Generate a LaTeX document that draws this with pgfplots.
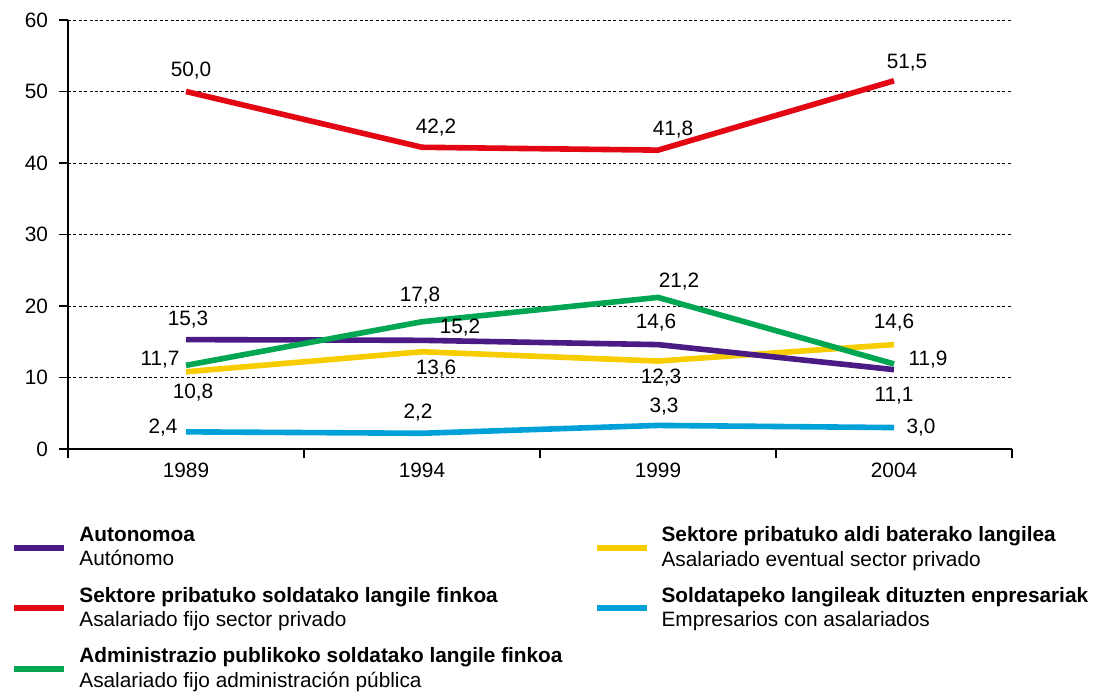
\documentclass[border=0pt]{standalone}
\usepackage{fontspec}
\setmainfont{Liberation Sans}
\usepackage{pgfplots}
\pgfplotsset{compat=1.18}
\definecolor{cpurple}{HTML}{4A1A85}
\definecolor{cred}{HTML}{E30613}
\definecolor{cgreen}{HTML}{00A651}
\definecolor{cyellow}{HTML}{F7CD00}
\definecolor{cblue}{HTML}{00A1D9}
\newcommand{\lab}[4]{\node[xshift=#3pt,yshift=#4pt] at (axis cs:#1) {#2};}
\begin{document}
\begin{tikzpicture}[font=\fontsize{10.4}{12.3}\selectfont]
\begin{axis}[
  scale only axis, width=472pt, height=214.5pt,
  xmin=0, xmax=4, ymin=0, ymax=60,
  axis x line=bottom, axis y line=left,
  axis line style={-, line width=0.8pt},
  xtick={0,1,2,3,4}, xticklabels={,,,,},
  extra x ticks={0.5,1.5,2.5,3.5},
  extra x tick labels={1989,1994,1999,2004},
  extra x tick style={major tick length=0pt, xticklabel style={yshift=-3.5pt}},
  ytick={0,10,...,60},
  tick align=outside, major tick length=4.5pt,
  tick style={black, line width=0.8pt},
  yticklabel style={xshift=-2pt},
  /pgf/number format/assume math mode=true,
  ymajorgrids, grid style={black, line width=0.5pt, dash pattern=on 1.5pt off 1.2pt},
  clip=false,
  legend columns=2, legend cell align=left,
  legend image code/.code={\draw[#1] (0pt,0pt) -- (25pt,0pt);},
  legend style={at={(0,0)}, anchor=north west, xshift=-28.5pt, yshift=-38.5pt,
    draw=none, fill=none, inner sep=0pt, column sep=6pt, row sep=9pt,
    nodes={inner sep=0pt, align=left},
    /tikz/every even column/.append style={column sep=15.5pt}},
]
\addplot[cblue, line width=2.8pt, forget plot] coordinates {(0.5,2.4)(1.5,2.2)(2.5,3.3)(3.5,3.0)};
\addplot[cyellow, line width=2.8pt, forget plot] coordinates {(0.5,10.8)(1.5,13.6)(2.5,12.3)(3.5,14.6)};
\addplot[cpurple, line width=2.8pt, forget plot] coordinates {(0.5,15.3)(1.5,15.2)(2.5,14.6)(3.5,11.1)};
\addplot[cgreen, line width=2.8pt, forget plot] coordinates {(0.5,11.7)(1.5,17.8)(2.5,21.2)(3.5,11.9)};
\addplot[cred, line width=2.8pt, forget plot] coordinates {(0.5,50.0)(1.5,42.2)(2.5,41.8)(3.5,51.5)};

\addlegendimage{cpurple, line width=3pt}
\addlegendentry{\textbf{Autonomoa}\\Autónomo}
\addlegendimage{cyellow, line width=3pt}
\addlegendentry{\textbf{Sektore pribatuko aldi baterako langilea}\\Asalariado eventual sector privado}
\addlegendimage{cred, line width=3pt}
\addlegendentry{\textbf{Sektore pribatuko soldatako langile finkoa}\\Asalariado fijo sector privado}
\addlegendimage{cblue, line width=3pt}
\addlegendentry{\textbf{Soldatapeko langileak dituzten enpresariak}\\Empresarios con asalariados}
\addlegendimage{cgreen, line width=3pt}
\addlegendentry{\textbf{Administrazio publikoko soldatako langile finkoa}\\Asalariado fijo administración pública}

% red
\lab{0.5,50.0}{50,0}{2.5}{10.5}
\lab{1.5,42.2}{42,2}{7}{10}
\lab{2.5,41.8}{41,8}{7.5}{10.5}
\lab{3.5,51.5}{51,5}{6.5}{9}
% purple
\lab{0.5,15.3}{15,3}{1}{10}
\lab{1.5,15.2}{15,2}{19}{6.5}
\lab{2.5,14.6}{14,6}{-1}{11}
\lab{3.5,11.1}{11,1}{0}{-13}
% green
\lab{0.5,11.7}{11,7}{-13}{3}
\lab{1.5,17.8}{17,8}{-1}{13}
\lab{2.5,21.2}{21,2}{10.5}{8}
\lab{3.5,11.9}{11,9}{17}{2}
% yellow
\lab{0.5,10.8}{10,8}{3.5}{-10.5}
\lab{1.5,13.6}{13,6}{7}{-8.5}
\lab{2.5,12.3}{12,3}{1.5}{-8.5}
\lab{3.5,14.6}{14,6}{0}{11}
% blue
\lab{0.5,2.4}{2,4}{-11.5}{2}
\lab{1.5,2.2}{2,2}{-2}{10.5}
\lab{2.5,3.3}{3,3}{3}{9.5}
\lab{3.5,3.0}{3,0}{13.5}{0}
\end{axis}
\pgfresetboundingbox
\useasboundingbox (-34pt,-121pt) rectangle (516.5pt,224.5pt);
\end{tikzpicture}
\end{document}
